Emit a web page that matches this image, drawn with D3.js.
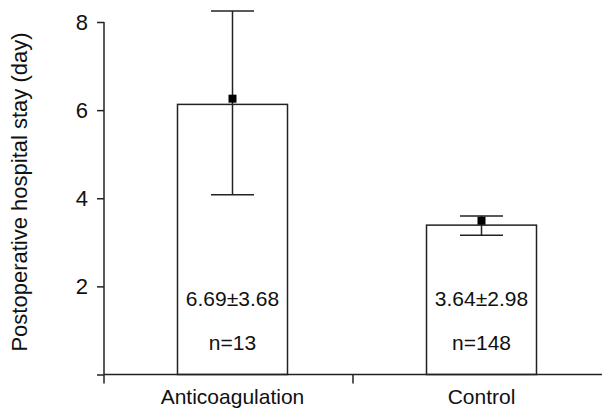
<!DOCTYPE html>
<html>
<head>
<meta charset="utf-8">
<script src="https://cdn.jsdelivr.net/npm/d3@7"></script>
<style>
  body { margin: 0; background: #fff; }
  text { font-family: "Liberation Sans", Arial, sans-serif; }
</style>
</head>
<body>
<div id="chart"></div>
<script>
// data
var categories = ["Anticoagulation", "Control"];
var barValues = [6.13, 3.39];        // bar heights
var meanMarkers = [6.26, 3.49];      // black square markers
var errLow = [4.08, 3.16];
var errHigh = [8.25, 3.60];
var statLabels = ["6.69\u00b13.68", "3.64\u00b12.98"];
var nLabels = ["n=13", "n=148"];
var yTicks = [0, 2, 4, 6, 8];

var width = 602;
var height = 411;
var margin = ({ top: 22, right: 0, bottom: 36, left: 104 });
var ink = "#222";

var svg = d3.select("#chart")
  .append("svg")
  .attr("width", width)
  .attr("height", height);

var x = d3.scaleBand()
  .domain(categories)
  .range([margin.left, margin.left + 2 * 249])
  .padding(0);

var y = d3.scaleLinear()
  .domain([0, 8])
  .range([374.5, margin.top]);

var barW = 110;
var shift = 4;   // bars sit a little right of the band centre in the original
var cx = d => x(d) + x.bandwidth() / 2 + shift;

var data = categories.map((c, i) => ({
  cat: c, v: barValues[i], m: meanMarkers[i], lo: errLow[i], hi: errHigh[i],
  stat: statLabels[i], n: nLabels[i]
}));

// bars
svg.selectAll("rect.bar")
  .data(data)
  .enter()
  .append("rect")
  .attr("class", "bar")
  .attr("x", d => cx(d.cat) - barW / 2)
  .attr("width", barW)
  .attr("y", d => y(d.v))
  .attr("height", d => y(0) - y(d.v))
  .attr("fill", "#fff")
  .attr("stroke", ink)
  .attr("stroke-width", 1.5);

// error bars
var err = svg.selectAll("g.err")
  .data(data)
  .enter()
  .append("g")
  .attr("class", "err")
  .attr("transform", d => `translate(${cx(d.cat)},0)`);

err.append("line")
  .attr("y1", d => y(d.lo))
  .attr("y2", d => y(d.hi))
  .attr("stroke", ink)
  .attr("stroke-width", 1.5);

err.selectAll("line.cap")
  .data(d => [d.lo, d.hi])
  .enter()
  .append("line")
  .attr("class", "cap")
  .attr("x1", -21.5)
  .attr("x2", 21.5)
  .attr("y1", d => y(d))
  .attr("y2", d => y(d))
  .attr("stroke", ink)
  .attr("stroke-width", 1.5);

err.append("rect")
  .attr("x", -4)
  .attr("y", d => y(d.m) - 4)
  .attr("width", 8)
  .attr("height", 8)
  .attr("fill", "#000");

// texts inside bars
err.append("text")
  .attr("y", y(0) - 69)
  .attr("text-anchor", "middle")
  .attr("font-size", 21)
  .attr("fill", "#111")
  .text(d => d.stat);

err.append("text")
  .attr("y", y(0) - 25)
  .attr("text-anchor", "middle")
  .attr("font-size", 21)
  .attr("fill", "#111")
  .text(d => d.n);

// y axis
var yAxis = svg.append("g")
  .attr("transform", `translate(${margin.left},0)`)
  .call(d3.axisLeft(y).tickValues(yTicks).tickSize(7).tickPadding(9)
    .tickFormat(d => d === 0 ? "" : d));
yAxis.select(".domain").remove();
yAxis.selectAll(".tick line").attr("stroke", ink).attr("stroke-width", 1.5);
yAxis.selectAll(".tick text")
  .attr("font-size", 22)
  .attr("fill", "#111")
  .attr("font-family", "'Liberation Sans', Arial, sans-serif");
yAxis.append("line")
  .attr("y1", y(8))
  .attr("y2", y(0))
  .attr("stroke", ink)
  .attr("stroke-width", 1.5);

// x axis
var xAxis = svg.append("g")
  .attr("transform", `translate(0,${y(0)})`);
xAxis.append("line")
  .attr("x1", margin.left)
  .attr("x2", width)
  .attr("stroke", ink)
  .attr("stroke-width", 1.5);
xAxis.selectAll("line.tick")
  .data(categories)
  .enter()
  .append("line")
  .attr("class", "tick")
  .attr("x1", d => x(d))
  .attr("x2", d => x(d))
  .attr("y1", 0)
  .attr("y2", 9)
  .attr("stroke", ink)
  .attr("stroke-width", 1.5);
xAxis.selectAll("text")
  .data(categories)
  .enter()
  .append("text")
  .attr("x", d => cx(d))
  .attr("y", 29)
  .attr("text-anchor", "middle")
  .attr("font-size", 21)
  .attr("fill", "#111")
  .text(d => d);

// y axis title
svg.append("text")
  .attr("transform", `translate(27,192) rotate(-90)`)
  .attr("text-anchor", "middle")
  .attr("font-size", 22)
  .attr("fill", "#111")
  .text("Postoperative hospital stay (day)");
</script>
</body>
</html>
